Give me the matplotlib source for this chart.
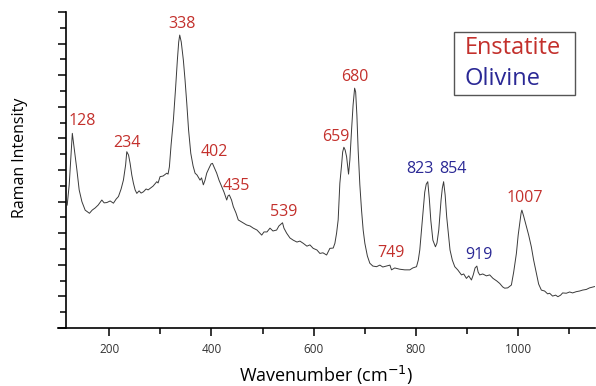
import numpy as np
import matplotlib
matplotlib.use('Agg')
import matplotlib.pyplot as plt
from matplotlib.ticker import MultipleLocator, FixedLocator, NullFormatter
from matplotlib.patches import Rectangle

plt.rcParams['font.family'] = ['Open Sans', 'DejaVu Sans']

# spectrum (wavenumber cm-1, intensity arb. units)
wavenumber = [118.0, 121.9, 128.0, 136.9, 141.4, 146.7, 153.1, 161.5, 166.8, 172.7,
              178.5, 185.7, 190.2, 195.5, 202.0, 208.4, 213.7, 218.2, 223.4, 227.9,
              232.2, 234.5, 238.0, 241.0, 244.3, 247.5, 250.8, 254.1, 258.6, 262.5,
              267.0, 272.3, 276.2, 280.1, 285.9, 293.2, 295.7, 299.6, 305.5, 312.7,
              315.2, 317.8, 321.1, 325.6, 329.9, 333.4, 336.0, 338.0, 341.0, 345.1,
              348.4, 351.8, 355.3, 359.6, 364.1, 368.0, 371.9, 377.7, 380.7, 384.2,
              387.5, 390.8, 395.3, 399.2, 402.0, 406.0, 410.3, 414.8, 420.1, 424.6,
              429.9, 432.4, 435.0, 439.3, 442.8, 448.0, 452.5, 459.8, 468.9, 475.4,
              481.8, 489.1, 498.3, 502.8, 508.6, 514.5, 520.3, 527.5, 532.0, 539.0,
              541.8, 547.1, 553.5, 559.9, 567.2, 573.0, 579.5, 586.7, 592.6, 599.0,
              606.2, 612.1, 618.0, 625.2, 631.6, 638.1, 641.4, 644.7, 647.8, 651.1,
              654.5, 656.6, 659.0, 661.5, 664.3, 668.1, 670.7, 674.0, 677.0, 680.0,
              682.0, 684.4, 686.9, 690.2, 693.5, 696.7, 700.0, 704.9, 709.7, 715.6,
              722.8, 729.3, 735.1, 742.3, 749.0, 752.1, 758.5, 768.3, 778.1, 787.9,
              793.7, 801.0, 804.5, 807.4, 810.7, 813.8, 817.1, 820.0, 823.0, 826.0,
              829.0, 833.0, 838.0, 841.0, 844.5, 849.0, 851.5, 854.0, 857.0, 860.0,
              863.5, 866.5, 871.0, 875.8, 881.6, 888.9, 893.3, 898.6, 903.1, 908.4,
              911.9, 915.5, 919.0, 921.5, 924.6, 930.5, 937.7, 944.1, 950.6, 957.8,
              963.7, 969.5, 973.4, 979.3, 986.5, 991.0, 996.3, 999.8, 1002.7, 1005.5,
              1007.0, 1010.5, 1015.8, 1020.3, 1025.5, 1030.0, 1035.3, 1039.8, 1045.1, 1051.5,
              1057.4, 1061.3, 1067.1, 1073.0, 1077.5, 1082.8, 1086.7, 1093.9, 1100.4, 1106.2,
              1113.4, 1119.9, 1125.8, 1133.0, 1139.4, 1149.0]
intensity = [3.89, 4.53, 6.16, 5.01, 4.37, 4.00, 3.73, 3.63, 3.73, 3.80,
             3.89, 4.05, 3.96, 3.97, 4.02, 3.95, 4.08, 4.16, 4.40, 4.68,
             5.16, 5.58, 5.47, 5.21, 4.84, 4.58, 4.37, 4.26, 4.34, 4.27,
             4.31, 4.40, 4.37, 4.42, 4.49, 4.63, 4.59, 4.79, 4.81, 4.90,
             4.87, 5.10, 5.79, 6.58, 7.59, 8.48, 9.05, 9.27, 9.05, 8.48,
             7.85, 7.11, 6.27, 5.53, 5.13, 4.90, 4.84, 4.68, 4.75, 4.53,
             4.68, 4.90, 5.06, 5.19, 5.21, 5.06, 4.90, 4.68, 4.47, 4.30,
             4.05, 4.18, 4.21, 4.05, 3.84, 3.64, 3.42, 3.35, 3.26, 3.23,
             3.16, 3.10, 2.94, 3.04, 3.04, 3.16, 3.07, 3.10, 3.23, 3.33,
             3.16, 3.00, 2.85, 2.78, 2.72, 2.75, 2.68, 2.59, 2.63, 2.52,
             2.47, 2.36, 2.38, 2.31, 2.52, 2.53, 2.68, 3.00, 3.42, 4.58,
             5.16, 5.57, 5.72, 5.63, 5.42, 4.87, 5.32, 6.27, 7.06, 7.59,
             7.47, 6.74, 5.63, 4.53, 3.73, 3.10, 2.68, 2.28, 2.05, 1.96,
             1.94, 1.99, 1.93, 1.96, 1.99, 1.84, 1.90, 1.86, 1.84, 1.84,
             1.90, 1.94, 2.15, 2.47, 3.10, 3.73, 4.30, 4.55, 4.63, 4.10,
             3.40, 2.78, 2.57, 2.69, 3.10, 4.05, 4.43, 4.63, 4.21, 3.52,
             2.94, 2.47, 2.15, 1.94, 1.84, 1.68, 1.71, 1.57, 1.65, 1.52,
             1.68, 1.90, 1.96, 1.77, 1.68, 1.71, 1.65, 1.68, 1.57, 1.49,
             1.41, 1.30, 1.26, 1.27, 1.36, 1.77, 2.36, 2.94, 3.31, 3.64,
             3.73, 3.54, 3.21, 2.94, 2.57, 2.15, 1.73, 1.39, 1.20, 1.17,
             1.08, 1.10, 1.01, 1.04, 0.99, 1.04, 1.11, 1.10, 1.14, 1.11,
             1.15, 1.17, 1.20, 1.22, 1.27, 1.31]

# peak labels
enstatite_peaks = [128, 234, 338, 402, 435, 539, 659, 680, 749, 1007]
olivine_peaks = [823, 854, 919]

# label offsets from the peak, in pixels (layout only)
label_offset = {128: (10, 12), 234: (0, 12), 338: (2, 11), 402: (2, 11),
                435: (7, 9), 539: (1, 11), 659: (-8, 10), 680: (0, 11),
                749: (1, 12), 823: (-8, 13), 854: (9, 13), 919: (2, 11),
                1007: (3, 12)}

red = '#c3302c'
blue = '#2a2895'

fig = plt.figure(figsize=(5.96, 3.86), dpi=100)
ax = fig.add_axes([58/596, 58/386, 537/596, 316/386])

ax.plot(wavenumber, intensity, color='#3a3a3a', lw=0.7)

for peaks, col in [(enstatite_peaks, red), (olivine_peaks, blue)]:
    for p in peaks:
        y = np.interp(p, wavenumber, intensity)
        ax.annotate(str(p), (p, y), xytext=label_offset[p], textcoords='offset pixels',
                    ha='center', va='center', color=col, fontsize=11.5)

ax.set_xlim(100, 1150)
ax.set_ylim(0, 10)
ax.spines['top'].set_visible(False)
ax.spines['right'].set_visible(False)
ax.spines['left'].set_position(('data', 116))
for s in ['left', 'bottom']:
    ax.spines[s].set_linewidth(1.2)

ax.xaxis.set_major_locator(MultipleLocator(200))
ax.xaxis.set_minor_locator(FixedLocator([300, 500, 700, 900, 1100]))
ax.yaxis.set_major_locator(MultipleLocator(1))
ax.yaxis.set_minor_locator(MultipleLocator(0.5))
ax.yaxis.set_major_formatter(NullFormatter())
ax.tick_params(axis='both', which='major', length=5.5, width=1.1, colors='black',
               labelcolor='#333333', labelsize=8.5, pad=5)
ax.tick_params(axis='both', which='minor', length=4, width=1.1)
ax.tick_params(axis='y', which='major', length=6)

ax.set_xlabel('Wavenumber (cm$^{-1}$)', fontsize=13, labelpad=6)
ax.set_ylabel('Raman Intensity', fontsize=11.5)
ax.yaxis.set_label_coords(-0.056, 0.54)

# legend box
ax.add_patch(Rectangle((454/596, (386-95)/386), 121/596, 63/386, transform=fig.transFigure,
                       fill=False, edgecolor='#555555', lw=1.0, clip_on=False))
fig.text(465/596, (386-54)/386, 'Enstatite', color=red, fontsize=17, va='baseline')
fig.text(465/596, (386-85)/386, 'Olivine', color=blue, fontsize=17, va='baseline')

fig.savefig('out.png', dpi=100)
